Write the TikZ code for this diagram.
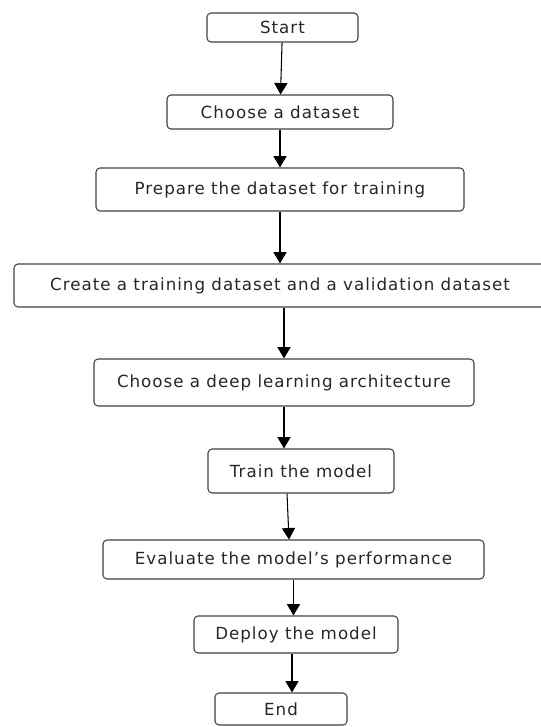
\documentclass[tikz,border=0pt]{standalone}
\usepackage{fontspec}
\setmainfont{DejaVu Sans}[LetterSpace=6]
\usepackage{tikz}
\usetikzlibrary{arrows.meta}

\begin{document}
\begin{tikzpicture}[
    flowbox/.style={draw=black!75, rounded corners=0.08cm, line width=0.6pt, inner sep=0pt,
        text=black!85, font=\fontsize{9.5}{11}\selectfont},
    flow/.style={-{Triangle[width=7.5pt,length=6.5pt]}, line width=0.6pt}]
    \useasboundingbox (0,0) rectangle (10.82,-14.54);

    \node[flowbox, minimum width=3.02cm, minimum height=0.58cm] (S) at (5.65,-0.55) {Start};
    \node[flowbox, minimum width=4.52cm, minimum height=0.68cm] (C) at (5.6,-2.24) {Choose a dataset};
    \node[flowbox, minimum width=7.36cm, minimum height=0.86cm] (P) at (5.6,-3.79) {Prepare the dataset for training};
    \node[flowbox, minimum width=10.64cm, minimum height=0.86cm] (R) at (5.6,-5.71) {Create a training dataset and a validation dataset};
    \node[flowbox, minimum width=7.6cm, minimum height=0.94cm] (D) at (5.68,-7.65) {Choose a deep learning architecture};
    \node[flowbox, minimum width=3.72cm, minimum height=0.88cm] (T) at (6.02,-9.42) {Train the model};
    \node[flowbox, minimum width=7.62cm, minimum height=0.78cm] (E) at (5.87,-11.19) {Evaluate the model's performance};
    \node[flowbox, minimum width=4.08cm, minimum height=0.74cm] (Y) at (5.92,-12.69) {Deploy the model};
    \node[flowbox, minimum width=2.64cm, minimum height=0.64cm] (N) at (5.62,-14.18) {End};

    \draw[flow] (S) -- (C);
    \draw[flow] (C) -- (P);
    \draw[flow] (P) -- (R);
    \draw[flow] (D.north |- R.south) -- (D.north);
    \draw[flow] (D.south) -- (D.south |- T.north);
    \draw[flow] ([xshift=-0.28cm]T.south) -- ([xshift=-0.09cm]E.north);
    \draw[flow] (E.south) -- (E.south |- Y.north);
    \draw[flow] ([xshift=-0.08cm]Y.south) -- ([xshift=-0.08cm]Y.south |- N.north);
\end{tikzpicture}
\end{document}
